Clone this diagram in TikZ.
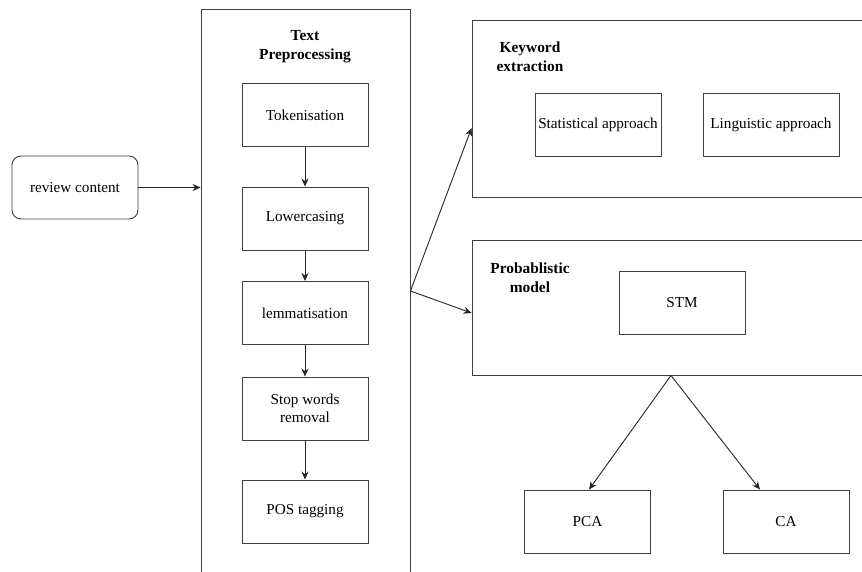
\documentclass[tikz,border=0pt]{standalone}
\usepackage{fontspec}
\setmainfont{Liberation Serif}
\usetikzlibrary{arrows.meta}
\begin{document}
\begin{tikzpicture}[x=1pt,y=-1pt,
  font=\fontsize{15.2}{18.5}\selectfont,
  box/.style={draw=black!75, line width=0.9pt, rectangle, inner sep=1pt, align=center},
  stepbox/.style={box, minimum width=126pt, minimum height=63pt},
  frame/.style={draw=black!75, line width=0.9pt, rectangle, inner sep=0pt},
  title/.style={font=\fontsize{15.4}{19}\selectfont\bfseries, align=center, inner sep=0pt},
  link/.style={draw=black!85, line width=0.9pt, -{Stealth[length=8pt,width=7pt]}}]
\useasboundingbox (0,0) rectangle (862,572);
\clip (0,0) rectangle (862,572);
\fill[white] (0,0) rectangle (862,572);

% input
\node[box, rounded corners=9pt, minimum width=126pt, minimum height=63pt] (rc) at (75,187.5) {review content};

% preprocessing container and its steps
\node[frame, minimum width=209pt, minimum height=600pt] (tp) at (305.5,309) {};
\node[title] (tpt) at (305,47) {Text\\Preprocessing};
\node[stepbox] (tok) at (305,115) {Tokenisation};
\node[stepbox] (low) at (305,218.5) {Lowercasing};
\node[stepbox] (lem) at (305,313) {lemmatisation};
\node[stepbox] (stop) at (305,408.5) {Stop words\\removal};
\node[stepbox] (pos) at (305,511.5) {POS tagging};

% keyword extraction container
\node[frame, minimum width=440pt, minimum height=177pt] (kw) at (692,108.5) {};
\node[title] (kwt) at (530,57) {Keyword\\extraction};
\node[stepbox] (stat) at (598,124.5) {Statistical approach};
\node[stepbox, minimum width=136pt] (ling) at (771,124.5) {Linguistic approach};

% probabilistic model container
\node[frame, minimum width=440pt, minimum height=135pt] (pm) at (692,307.5) {};
\node[title] (pmt) at (530,278) {Probablistic\\model};
\node[stepbox] (stm) at (682,302.5) {STM};

% outputs
\node[stepbox] (pca) at (587.5,521.5) {PCA};
\node[stepbox] (ca) at (786,521.5) {CA};

% connector end points
\coordinate (split) at (tp.east |- 0,291);
\coordinate (kwin) at (kw.west |- 0,128);
\coordinate (pmin) at (pm.west |- 0,313);
\coordinate (pmout) at (pm.south -| 671,0);
\coordinate (cain) at (ca.north -| 760,0);
\coordinate (pcain) at (pca.north -| 589,0);

\draw[link] (rc.east) -- (rc.east -| tp.west);
\draw[link] (tok) -- (low);
\draw[link] (low) -- (lem);
\draw[link] (lem) -- (stop);
\draw[link] (stop) -- (pos);
\draw[link] (split) -- (kwin);
\draw[link] (split) -- (pmin);
\draw[link] (pmout) -- (pcain);
\draw[link] (pmout) -- (cain);
\end{tikzpicture}
\end{document}
